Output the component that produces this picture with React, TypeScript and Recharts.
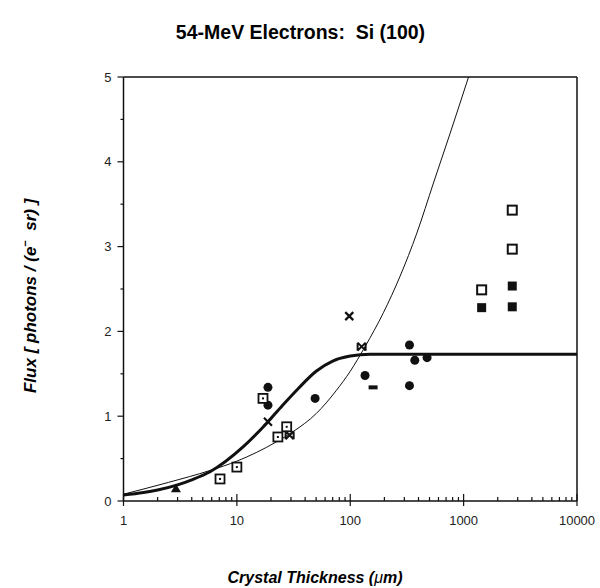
import { ComposedChart, Line, Scatter, XAxis, YAxis, ReferenceLine } from 'recharts';

// curves: [thickness (um), flux]
const thickCurve: [number, number][] = [
  [1, 0.07], [1.5, 0.1], [2, 0.13], [3, 0.19], [4, 0.25], [5.8, 0.345], [11.4, 0.64], [18.4, 0.92],
  [25, 1.12], [35, 1.33], [50, 1.53], [70, 1.65], [100, 1.71], [150, 1.73], [1000, 1.73], [10000, 1.73],
];
const thinCurve: [number, number][] = [
  [1, 0.08], [2.5, 0.22], [5.8, 0.36], [10, 0.47], [22.5, 0.7], [31.5, 0.82], [50, 1.03],
  [75, 1.3], [100, 1.53], [135, 1.82], [196, 2.22], [275, 2.65], [387, 3.16], [542, 3.75],
  [762, 4.34], [1105, 5.0],
];

// measured points, one list per marker
const circles: [number, number][] = [
  [18.8, 1.34], [18.8, 1.13], [49, 1.21], [135, 1.48], [333, 1.84], [371, 1.66], [476, 1.69], [333, 1.36],
];
const dotSquares: [number, number][] = [[7.1, 0.26], [10, 0.4], [17, 1.21], [23, 0.755], [27.5, 0.875]];
const openSquares: [number, number][] = [[1442, 2.49], [2685, 3.43], [2685, 2.97]];
const filledSquares: [number, number][] = [[1442, 2.28], [2685, 2.535], [2685, 2.29]];
const crosses: [number, number][] = [[18.8, 0.935], [98, 2.18]];
const bowties: [number, number][] = [[29.2, 0.775], [126, 1.82]];
const triangles: [number, number][] = [[2.9, 0.15]];
const dashes: [number, number][] = [[159, 1.34]];

const xMajor = [1, 10, 100, 1000, 10000];
const xTicks = [...xMajor, ...[1, 10, 100, 1000].flatMap((d) => [2, 3, 4, 5, 6, 7, 8, 9].map((m) => m * d))];
const yTicks = [0, 0.5, 1, 1.5, 2, 2.5, 3, 3.5, 4, 4.5, 5];

const toRows = (pts: [number, number][]) => pts.map(([x, y]) => ({ x, y }));

const ink = '#111';
const tickFont = '"Liberation Sans", Arial, sans-serif';

const XTick = (props: any) => {
  const { x, y, payload } = props;
  const major = xMajor.includes(payload.value);
  return (
    <g>
      <line x1={x} x2={x} y1={major ? y + 5 : y} y2={major ? y - 7 : y - 4} stroke={ink} strokeWidth={1.2} />
      {major && (
        <text x={x} y={y + 24} textAnchor="middle" fontSize={13} fontFamily={tickFont} fill="#222">
          {payload.value}
        </text>
      )}
    </g>
  );
};

const YTick = (props: any) => {
  const { x, y, payload } = props;
  const major = Number.isInteger(payload.value);
  return (
    <g>
      <line x1={x} x2={major ? x - 6 : x - 3} y1={y} y2={y} stroke={ink} strokeWidth={1.2} />
      {major && (
        <text x={x - 12} y={y + 4.5} textAnchor="end" fontSize={13} fontFamily={tickFont} fill="#222">
          {payload.value}
        </text>
      )}
    </g>
  );
};

const Circle = ({ cx, cy }: any) => <circle cx={cx} cy={cy} r={4.5} fill={ink} />;
const DotSquare = ({ cx, cy }: any) => (
  <g>
    <rect x={cx - 4.5} y={cy - 4.5} width={9} height={9} fill="#fff" stroke={ink} strokeWidth={1.8} />
    <rect x={cx - 1} y={cy - 1} width={2} height={2} fill={ink} />
  </g>
);
const OpenSquare = ({ cx, cy }: any) => (
  <rect x={cx - 4.5} y={cy - 4.5} width={9} height={9} fill="#fff" stroke={ink} strokeWidth={2} />
);
const FilledSquare = ({ cx, cy }: any) => <rect x={cx - 4.5} y={cy - 4.5} width={9} height={9} fill={ink} />;
const Cross = ({ cx, cy }: any) => (
  <path d={`M${cx - 4},${cy - 4}L${cx + 4},${cy + 4}M${cx - 4},${cy + 4}L${cx + 4},${cy - 4}`} stroke={ink} strokeWidth={2.2} />
);
const Bowtie = ({ cx, cy }: any) => (
  <path
    d={`M${cx - 4},${cy - 4}L${cx + 4},${cy + 4}M${cx - 4},${cy + 4}L${cx + 4},${cy - 4}M${cx - 4},${cy - 4}L${cx - 4},${cy + 4}M${cx + 4},${cy - 4}L${cx + 4},${cy + 4}`}
    stroke={ink}
    strokeWidth={2}
  />
);
const Triangle = ({ cx, cy }: any) => (
  <path d={`M${cx},${cy - 4.5}L${cx + 5},${cy + 4}L${cx - 5},${cy + 4}Z`} fill={ink} />
);
const Dash = ({ cx, cy }: any) => <rect x={cx - 4.5} y={cy - 2} width={9} height={4} fill={ink} />;

const markerSets: [string, [number, number][], any][] = [
  ['circles', circles, Circle],
  ['dotSquares', dotSquares, DotSquare],
  ['openSquares', openSquares, OpenSquare],
  ['filledSquares', filledSquares, FilledSquare],
  ['crosses', crosses, Cross],
  ['bowties', bowties, Bowtie],
  ['triangles', triangles, Triangle],
  ['dashes', dashes, Dash],
];

const App = () => {
  return (
    <div style={{ position: 'absolute', left: 0, top: 0, width: 600, height: 588, background: '#fff' }}>
      <div
        style={{
          position: 'absolute', left: 0, top: 21, width: 601, textAlign: 'center',
          fontFamily: '"Liberation Sans", Arial, sans-serif', fontWeight: 'bold', fontSize: 19.5, color: '#000',
        }}
      >
        54-MeV Electrons:&nbsp; Si (100)
      </div>
      <ComposedChart width={600} height={588} margin={{ top: 77, right: 23, bottom: 57, left: 83.5 }}>
        <XAxis
          dataKey="x"
          type="number"
          scale="log"
          domain={[1, 10000]}
          ticks={xTicks}
          interval={0}
          tick={<XTick />}
          tickLine={false}
          tickSize={0}
          tickMargin={0}
          height={30}
          stroke={ink}
          strokeWidth={1.5}
          allowDataOverflow
        />
        <YAxis
          dataKey="y"
          type="number"
          domain={[0, 5]}
          ticks={yTicks}
          interval={0}
          tick={<YTick />}
          tickLine={false}
          tickSize={0}
          tickMargin={0}
          width={40}
          stroke={ink}
          strokeWidth={1.5}
          allowDataOverflow
        />
        <ReferenceLine y={5} stroke={ink} strokeWidth={1.5} />
        <ReferenceLine x={10000} stroke={ink} strokeWidth={1.5} />
        <Line data={toRows(thinCurve)} dataKey="y" type="monotone" stroke={ink} strokeWidth={1} dot={false} isAnimationActive={false} />
        <Line data={toRows(thickCurve)} dataKey="y" type="monotone" stroke={ink} strokeWidth={3} dot={false} isAnimationActive={false} />
        {markerSets.map(([name, pts, shape]) => (
          <Scatter key={name} name={name} data={toRows(pts)} shape={shape} isAnimationActive={false} />
        ))}
      </ComposedChart>
      <div
        style={{
          position: 'absolute', left: 165, top: 569, width: 300, textAlign: 'center',
          fontFamily: '"Liberation Sans", Arial, sans-serif', fontWeight: 'bold', fontStyle: 'italic', fontSize: 16, color: '#000',
        }}
      >
        Crystal Thickness (<span style={{ fontWeight: 'normal' }}>μ</span>m)
      </div>
      <div
        style={{
          position: 'absolute', left: -102, top: 283, width: 260, textAlign: 'center', transform: 'rotate(-90deg)',
          fontFamily: '"Liberation Sans", Arial, sans-serif', fontWeight: 'bold', fontStyle: 'italic', fontSize: 17, color: '#000',
          lineHeight: '20px',
        }}
      >
        Flux [ photons / (e<sup style={{ fontSize: 11 }}>−</sup>&nbsp; sr) ]
      </div>
    </div>
  );
};

export default App;
